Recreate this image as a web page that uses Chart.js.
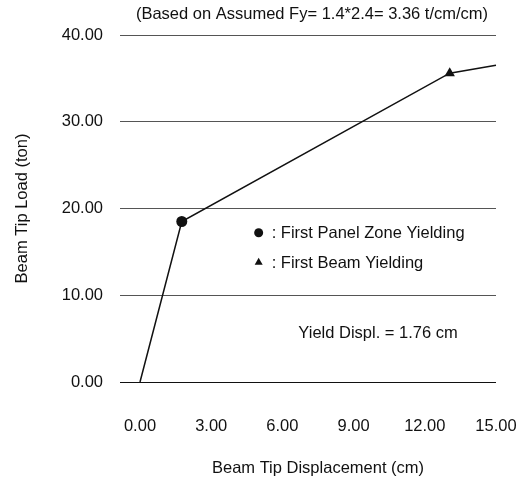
<!DOCTYPE html>
<html>
<head>
<meta charset="utf-8">
<script src="https://cdn.jsdelivr.net/npm/chart.js@4/dist/chart.umd.min.js"></script>
<style>
  html, body { margin: 0; padding: 0; background: #fff; }
  #wrap { width: 522px; height: 478px; }
</style>
</head>
<body>
<div id="wrap"><canvas id="loadCurve" width="522" height="478"></canvas></div>
<script>
// Load-displacement curve of the beam tip
const displacement = [0, 1.76, 13.05, 15];
const load = [0, 18.5, 35.6, 36.5];
const markerStyle = ['circle', 'circle', 'triangle', 'circle'];
const markerSize = [0, 5.5, 6, 0];

const xTicks = [0, 3, 6, 9, 12, 15];
const yTicks = [0, 10, 20, 30, 40];

const titleText = '(Based on Assumed Fy= 1.4*2.4= 3.36 t/cm/cm)';
const legendTexts = [': First Panel Zone Yielding', ': First Beam Yielding'];
const yieldText = 'Yield Displ. = 1.76 cm';

const FONT = '"Liberation Sans", Arial, sans-serif';
const SIZE = 16.5;
const INK = '#111';

const points = displacement.map((x, i) => ({ x: x, y: load[i] }));

// Title, marker legend and yield note drawn straight onto the canvas
const notesPlugin = {
    id: 'notes',
    afterDraw(chart) {
        const ctx = chart.ctx;
        const xs = chart.scales.x;
        const ys = chart.scales.y;
        ctx.save();
        ctx.fillStyle = INK;
        ctx.font = SIZE + 'px ' + FONT;
        ctx.textBaseline = 'middle';

        ctx.textAlign = 'center';
        ctx.fillText(titleText, 312, 14);

        // legend markers
        const mx = xs.getPixelForValue(5.0);
        const y1 = ys.getPixelForValue(17.2);
        const y2 = ys.getPixelForValue(13.8);
        ctx.beginPath();
        ctx.arc(mx, y1, 4.5, 0, Math.PI * 2);
        ctx.fill();
        ctx.beginPath();
        ctx.moveTo(mx, y2 - 4.5);
        ctx.lineTo(mx + 4, y2 + 2.5);
        ctx.lineTo(mx - 4, y2 + 2.5);
        ctx.closePath();
        ctx.fill();

        ctx.textAlign = 'left';
        ctx.fillText(legendTexts[0], mx + 13, y1 + 1);
        ctx.fillText(legendTexts[1], mx + 13, y2 + 1);

        ctx.textAlign = 'center';
        ctx.fillText(yieldText, xs.getPixelForValue(10.03), ys.getPixelForValue(5.65));
        ctx.restore();
    }
};

new Chart(document.getElementById('loadCurve'), {
    type: 'scatter',
    data: {
        datasets: [{
            data: points,
            showLine: true,
            borderColor: INK,
            borderWidth: 1.5,
            backgroundColor: INK,
            pointStyle: markerStyle,
            pointRadius: markerSize,
            pointBorderWidth: 0,
            clip: false
        }]
    },
    options: {
        responsive: false,
        animation: false,
        events: [],
        layout: {
            padding: { top: 35, right: 26, bottom: 0, left: 0 }
        },
        plugins: {
            legend: { display: false },
            tooltip: { enabled: false }
        },
        scales: {
            x: {
                type: 'linear',
                min: 0,
                max: 15,
                afterBuildTicks: (scale) => {
                    scale.ticks = xTicks.map(v => ({ value: v }));
                },
                afterFit: (scale) => {
                    scale.height = 96;
                    scale.paddingLeft = 0;
                    scale.paddingRight = 0;
                },
                grid: { display: false, drawTicks: false },
                border: { display: false },
                ticks: {
                    padding: 35,
                    color: INK,
                    font: { family: FONT, size: SIZE },
                    maxRotation: 0,
                    callback: (v) => Number(v).toFixed(2)
                },
                title: {
                    display: true,
                    text: 'Beam Tip Displacement (cm)',
                    color: INK,
                    font: { family: FONT, size: SIZE },
                    padding: { top: 3, bottom: 0 }
                }
            },
            y: {
                type: 'linear',
                min: 0,
                max: 40,
                afterBuildTicks: (scale) => {
                    scale.ticks = yTicks.map(v => ({ value: v }));
                },
                afterFit: (scale) => { scale.width = 140; },
                grid: {
                    drawTicks: true,
                    tickLength: 20,
                    lineWidth: 1,
                    color: (c) => (c.tick && c.tick.value === 0) ? '#111' : '#555'
                },
                border: { display: false },
                ticks: {
                    padding: 17,
                    color: INK,
                    font: { family: FONT, size: SIZE },
                    callback: (v) => Number(v).toFixed(2)
                },
                title: {
                    display: true,
                    text: 'Beam Tip Load (ton)',
                    color: INK,
                    font: { family: FONT, size: SIZE },
                    padding: { top: 13, bottom: 0 }
                }
            }
        }
    },
    plugins: [notesPlugin]
});
</script>
</body>
</html>
